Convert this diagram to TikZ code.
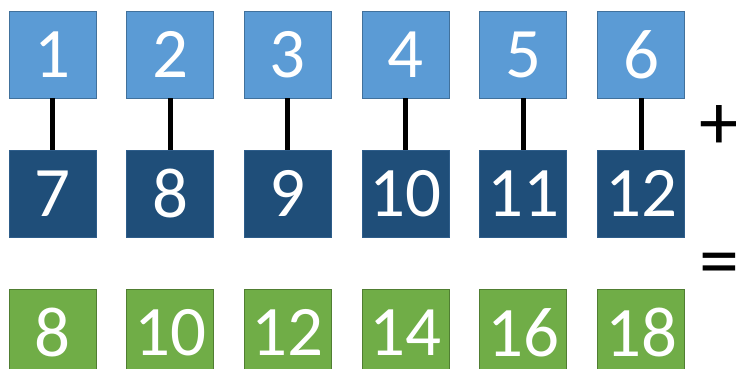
\documentclass[tikz,border=0pt]{standalone}
\usepackage{fontspec}
\setmainfont{Carlito}
\usetikzlibrary{positioning}
\definecolor{lightblue}{HTML}{5B9BD5}
\definecolor{lightblueedge}{HTML}{41719C}
\definecolor{darkblue}{HTML}{1F4E79}
\definecolor{darkblueedge}{HTML}{2E5D8A}
\definecolor{leafgreen}{HTML}{70AD47}
\definecolor{leafgreenedge}{HTML}{507E32}
\begin{document}
\begin{tikzpicture}[x=1pt, y=1pt, node distance=52pt and 30.7pt,
  cell/.style={rectangle, minimum size=87pt, inner sep=0pt, outer sep=0pt, line width=0.8pt,
    text=white, font=\fontsize{71}{71}\selectfont},
  topcell/.style={cell, fill=lightblue, draw=lightblueedge},
  midcell/.style={cell, fill=darkblue, draw=darkblueedge},
  sumcell/.style={cell, fill=leafgreen, draw=leafgreenedge},
  link/.style={line width=5pt, black},
  sign/.style={font=\fontsize{80}{80}\selectfont, inner sep=0pt, anchor=west}]
\useasboundingbox (0,0) rectangle (736,-369);
% first vector
\node (t1) [topcell] at (52.5,-54.5) {1};
\node (t2) [topcell, right=of t1] {2};
\node (t3) [topcell, right=of t2] {3};
\node (t4) [topcell, right=of t3] {4};
\node (t5) [topcell, right=of t4] {5};
\node (t6) [topcell, right=of t5] {6};
% second vector
\node (m1) [midcell, below=of t1] {7};
\node (m2) [midcell, below=of t2] {8};
\node (m3) [midcell, below=of t3] {9};
\node (m4) [midcell, below=of t4] {10};
\node (m5) [midcell, below=of t5] {11};
\node (m6) [midcell, below=of t6] {12};
% result
\node (b1) [sumcell, below=of m1] {8};
\node (b2) [sumcell, below=of m2] {10};
\node (b3) [sumcell, below=of m3] {12};
\node (b4) [sumcell, below=of m4] {14};
\node (b5) [sumcell, below=of m5] {16};
\node (b6) [sumcell, below=of m6] {18};
\foreach \i in {1,...,6}
  \draw[link] (t\i.south) -- (m\i.north);
\node (plus) [sign] at (699,-128) {+};
\node (equals) [sign] at (699,-270) {=};
\end{tikzpicture}
\end{document}
